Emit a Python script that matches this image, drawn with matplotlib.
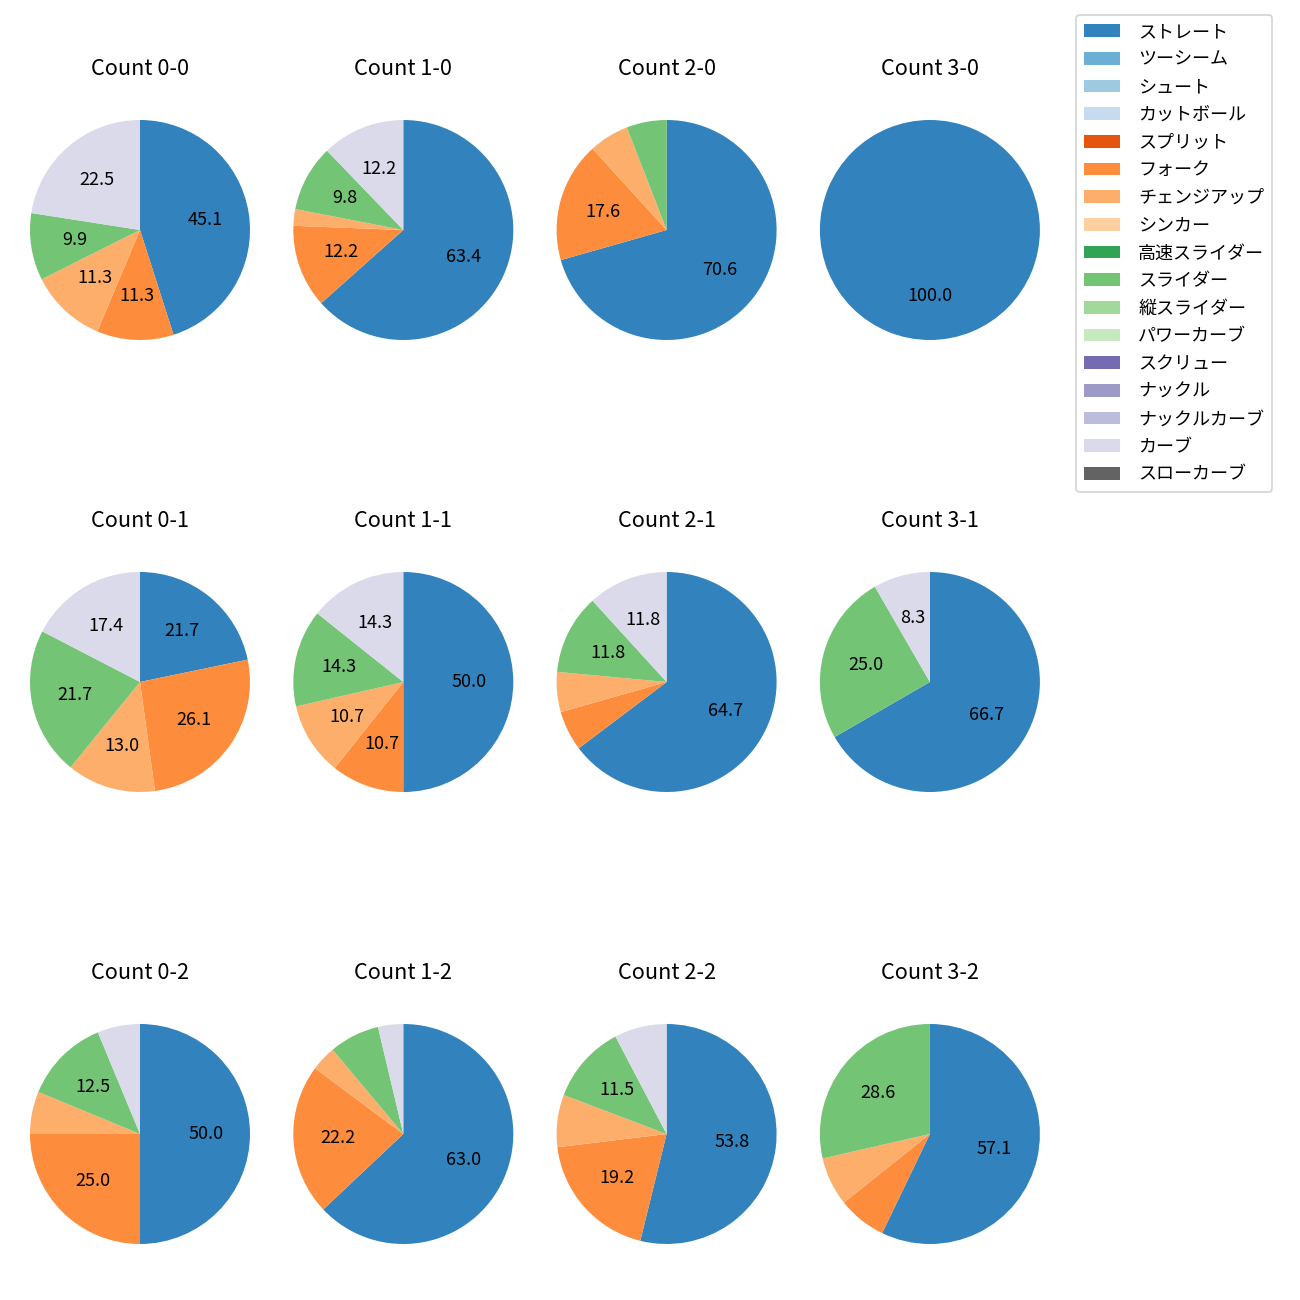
import numpy as np
import matplotlib
matplotlib.use("Agg")
import matplotlib.pyplot as plt
from matplotlib.patches import Patch

plt.rcParams["font.family"] = ["Noto Sans CJK JP", "DejaVu Sans"]

pitch_types = [
    "ストレート", "ツーシーム", "シュート", "カットボール", "スプリット",
    "フォーク", "チェンジアップ", "シンカー", "高速スライダー", "スライダー",
    "縦スライダー", "パワーカーブ", "スクリュー", "ナックル", "ナックルカーブ",
    "カーブ", "スローカーブ",
]

# pitch counts per ball-strike count
# (only the types that appear: ストレート, フォーク, チェンジアップ, スライダー, カーブ)
straight = {"0-0": 32, "1-0": 26, "2-0": 12, "3-0": 1,
            "0-1": 5, "1-1": 14, "2-1": 11, "3-1": 8,
            "0-2": 8, "1-2": 17, "2-2": 14, "3-2": 8}
fork = {"0-0": 8, "1-0": 5, "2-0": 3, "3-0": 0,
        "0-1": 6, "1-1": 3, "2-1": 1, "3-1": 0,
        "0-2": 4, "1-2": 6, "2-2": 5, "3-2": 1}
changeup = {"0-0": 8, "1-0": 1, "2-0": 1, "3-0": 0,
            "0-1": 3, "1-1": 3, "2-1": 1, "3-1": 0,
            "0-2": 1, "1-2": 1, "2-2": 2, "3-2": 1}
slider = {"0-0": 7, "1-0": 4, "2-0": 1, "3-0": 0,
          "0-1": 5, "1-1": 4, "2-1": 2, "3-1": 3,
          "0-2": 2, "1-2": 2, "2-2": 3, "3-2": 4}
curve = {"0-0": 16, "1-0": 5, "2-0": 0, "3-0": 0,
         "0-1": 4, "1-1": 4, "2-1": 2, "3-1": 1,
         "0-2": 1, "1-2": 1, "2-2": 2, "3-2": 0}

series = {
    "ストレート": straight,
    "フォーク": fork,
    "チェンジアップ": changeup,
    "スライダー": slider,
    "カーブ": curve,
}

counts_grid = [
    ["0-0", "1-0", "2-0", "3-0"],
    ["0-1", "1-1", "2-1", "3-1"],
    ["0-2", "1-2", "2-2", "3-2"],
]

cmap = plt.get_cmap("tab20c")
colors = {name: cmap(i) for i, name in enumerate(pitch_types)}

fig = plt.figure(figsize=(10, 10), dpi=130)
W, H = 1300.0, 1300.0
size = 275.0
x0, dx = 140.0, 263.3
y0, dy = 230.0, 452.0


def fmt(p):
    return "%.1f" % p if p >= 8 else ""


for r, row in enumerate(counts_grid):
    for c, cnt in enumerate(row):
        cx = x0 + c * dx
        cy = y0 + r * dy
        ax = fig.add_axes([(cx - size / 2) / W, 1 - (cy + size / 2) / H,
                           size / W, size / H])
        names = [n for n in series if series[n][cnt] > 0]
        vals = [series[n][cnt] for n in names]
        ax.pie(vals, colors=[colors[n] for n in names], startangle=90,
               counterclock=False, autopct=fmt)
        ax.set_title("Count %s" % cnt, fontsize=12, pad=9.5)

handles = [Patch(facecolor=colors[n], label=n) for n in pitch_types]
fig.legend(handles=handles, loc="upper left", fontsize=10,
           handletextpad=1.0, labelspacing=0.535, borderpad=0.45,
           bbox_to_anchor=(1076 / W, 1 - 15 / H), borderaxespad=0)

fig.savefig("out.png", dpi=130)
